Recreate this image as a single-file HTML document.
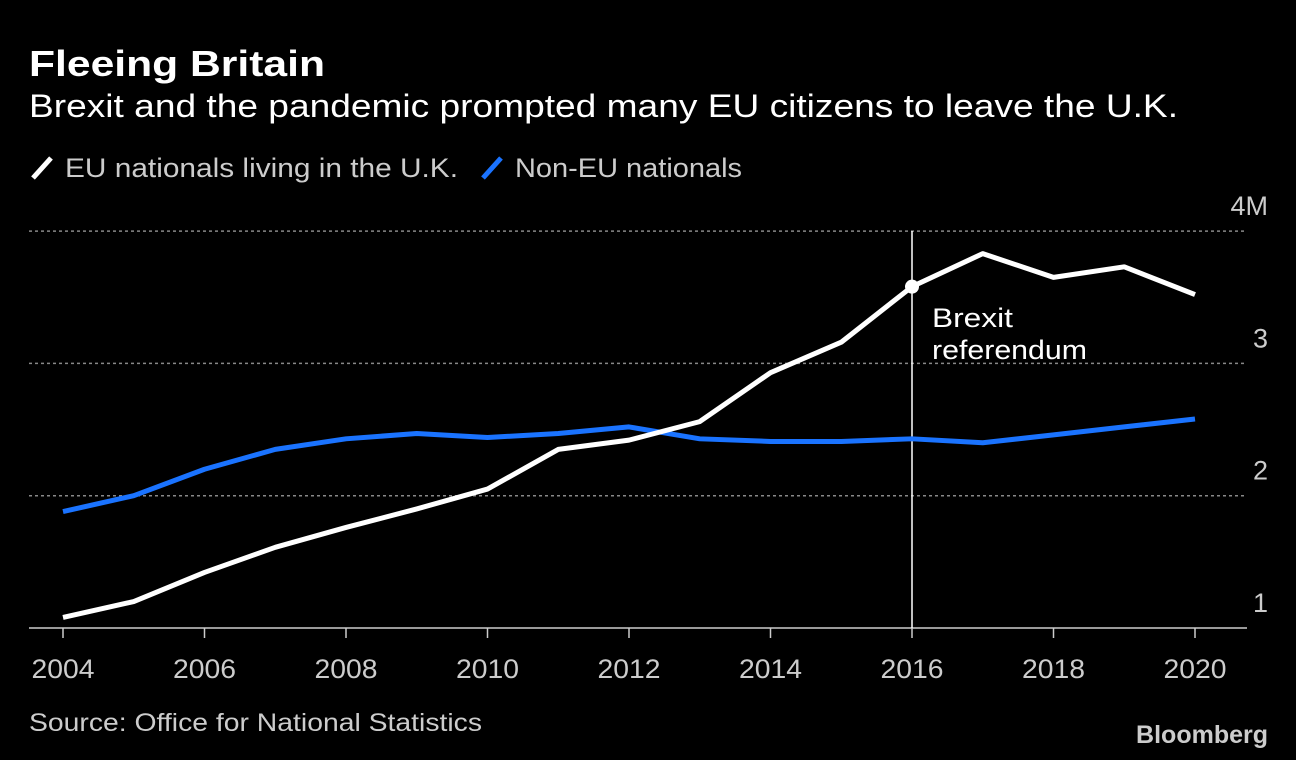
<!DOCTYPE html>
<html><head><meta charset="utf-8"><style>
body{margin:0;background:#000;width:1296px;height:760px;overflow:hidden;font-family:"Liberation Sans",sans-serif;color:#fff}
</style></head><body>
<svg width="1296" height="760" style="position:absolute;left:0;top:0">
<text x="29" y="76" font-size="36" font-weight="bold" fill="#fff" textLength="296" lengthAdjust="spacingAndGlyphs">Fleeing Britain</text>
<text x="29" y="117" font-size="32" fill="#fff" textLength="1149" lengthAdjust="spacingAndGlyphs">Brexit and the pandemic prompted many EU citizens to leave the U.K.</text>
<g>
<line x1="33" y1="178" x2="51" y2="158" stroke="#fff" stroke-width="5"/>
<text x="65" y="177" font-size="27" fill="#ccc" textLength="393" lengthAdjust="spacingAndGlyphs">EU nationals living in the U.K.</text>
<line x1="483" y1="178" x2="501" y2="158" stroke="#1a73ff" stroke-width="5"/>
<text x="515" y="177" font-size="27" fill="#ccc" textLength="227" lengthAdjust="spacingAndGlyphs">Non-EU nationals</text>
</g>
<g id="grid"></g><g id="axes"></g><g id="marks"></g>
<text x="29" y="731" font-size="25" fill="#ccc" textLength="453" lengthAdjust="spacingAndGlyphs">Source: Office for National Statistics</text>
<text x="1268" y="743" font-size="25" font-weight="bold" fill="#ccc" text-anchor="end">Bloomberg</text>
</svg>
<script>
const years=[2004,2005,2006,2007,2008,2009,2010,2011,2012,2013,2014,2015,2016,2017,2018,2019,2020];
const euValues=[1.08,1.2,1.42,1.61,1.76,1.9,2.05,2.35,2.42,2.56,2.93,3.16,3.58,3.83,3.65,3.73,3.52];
const nonEuValues=[1.88,2.0,2.2,2.35,2.43,2.47,2.44,2.47,2.52,2.43,2.41,2.41,2.43,2.4,2.46,2.52,2.58];
const yTicks=[1,2,3,4];
const yTickLabels=["1","2","3","4M"];
const xTicks=[2004,2006,2008,2010,2012,2014,2016,2018,2020];
const NS="http://www.w3.org/2000/svg";
function xs(y){return 63+(y-2004)*(1195-63)/16;}
function ys(v){return 628-(v-1)*132.3;}
function mk(t,a,p){const e=document.createElementNS(NS,t);for(const k in a)e.setAttribute(k,a[k]);p.appendChild(e);return e;}
const grid=document.getElementById('grid'),axes=document.getElementById('axes'),marks=document.getElementById('marks');
yTicks.forEach((v,i)=>{
 if(v>1){const l=mk('line',{x1:29,x2:1247,y1:ys(v),y2:ys(v),stroke:'#888','stroke-width':1.5,'stroke-dasharray':'3,3'},grid);
 
 }
 const t=mk('text',{x:1268,y:ys(v)-16,'font-size':27,fill:'#ccc','text-anchor':'end'},axes);
 t.textContent=yTickLabels[i];
 
 
});
const base=mk('line',{x1:29,x2:1247,y1:628,y2:628,stroke:'#ccc','stroke-width':1.5},axes);


xTicks.forEach(y=>{
 const tk=mk('line',{x1:xs(y),x2:xs(y),y1:628,y2:638,stroke:'#ccc','stroke-width':1.5},axes);
 
 
 const t=mk('text',{x:xs(y),y:678,'font-size':27,fill:'#ccc','text-anchor':'middle',textLength:63,lengthAdjust:'spacingAndGlyphs'},axes);
 t.textContent=y;
 
 
});
const ref=mk('line',{x1:xs(2016),x2:xs(2016),y1:231,y2:628,stroke:'#fff','stroke-width':1.5},marks);


function line(vals,col,name){const p=mk('polyline',{points:vals.map((v,i)=>xs(years[i])+','+ys(v)).join(' '),fill:'none',stroke:col,'stroke-width':5,'stroke-linejoin':'round'},marks);
 
 }
line(nonEuValues,'#1a73ff','non-eu-line');
line(euValues,'#fff','eu-line');
const i16=years.indexOf(2016);
const dot=mk('circle',{cx:xs(2016),cy:ys(euValues[i16]),r:7,fill:'#fff'},marks);


[['Brexit',81],['referendum',155]].forEach((s,i)=>{const t=mk('text',{x:932,y:327+i*32,'font-size':27,fill:'#fff',textLength:s[1],lengthAdjust:'spacingAndGlyphs'},marks);t.textContent=s[0];
 
 });
</script>
</body></html>
